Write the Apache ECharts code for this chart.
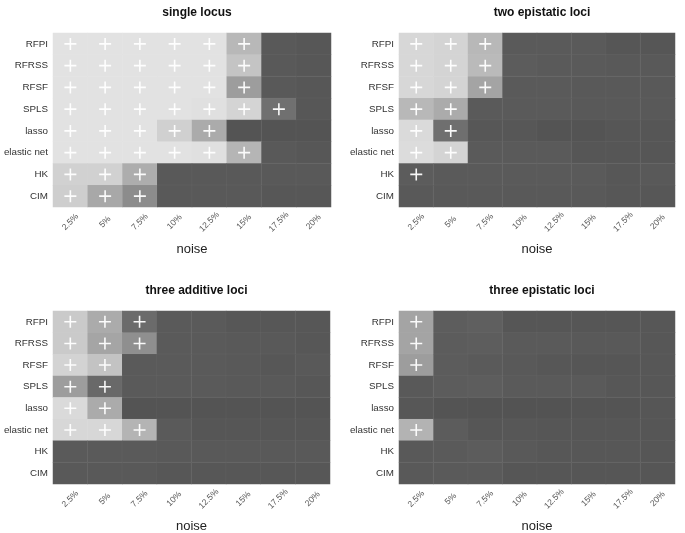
<!DOCTYPE html>
<html>
<head>
<meta charset="utf-8">
<script src="https://cdn.jsdelivr.net/npm/echarts@6/dist/echarts.min.js"></script>
<style>
  html, body { margin: 0; padding: 0; background: #fff; }
  #chart { width: 685px; height: 533px; }
</style>
</head>
<body>
<div id="chart"></div>
<script>
var methods = ['RFPI', 'RFRSS', 'RFSF', 'SPLS', 'lasso', 'elastic net', 'HK', 'CIM'];
var noiseLevels = ['2.5%', '5%', '7.5%', '10%', '12.5%', '15%', '17.5%', '20%'];
var panelTitles = ['single locus', 'two epistatic loci', 'three additive loci', 'three epistatic loci'];

// detection power, one row per method, one column per noise level
var singleLocus = [
  [0.97, 0.97, 0.97, 0.97, 0.97, 0.69, 0.04, 0.03],
  [0.97, 0.97, 0.97, 0.97, 0.97, 0.77, 0.04, 0.03],
  [0.97, 0.97, 0.97, 0.97, 0.97, 0.50, 0.04, 0.03],
  [0.97, 0.97, 0.97, 0.97, 0.96, 0.88, 0.20, 0.03],
  [0.97, 0.97, 0.97, 0.85, 0.60, 0.01, 0.01, 0.01],
  [0.97, 0.97, 0.97, 0.97, 0.96, 0.67, 0.04, 0.03],
  [0.86, 0.86, 0.61, 0.04, 0.04, 0.04, 0.04, 0.04],
  [0.84, 0.58, 0.39, 0.04, 0.04, 0.04, 0.03, 0.03]
];
var twoEpistatic = [
  [0.90, 0.88, 0.69, 0.05, 0.05, 0.05, 0.02, 0.02],
  [0.90, 0.88, 0.70, 0.06, 0.05, 0.05, 0.04, 0.04],
  [0.90, 0.88, 0.55, 0.05, 0.05, 0.04, 0.04, 0.04],
  [0.69, 0.60, 0.05, 0.05, 0.05, 0.04, 0.04, 0.04],
  [0.92, 0.19, 0.03, 0.03, 0.01, 0.01, 0.02, 0.02],
  [0.93, 0.88, 0.05, 0.05, 0.05, 0.02, 0.02, 0.02],
  [0.06, 0.05, 0.05, 0.05, 0.05, 0.05, 0.03, 0.04],
  [0.04, 0.04, 0.04, 0.04, 0.04, 0.04, 0.03, 0.03]
];
var threeAdditive = [
  [0.81, 0.60, 0.16, 0.05, 0.05, 0.03, 0.03, 0.03],
  [0.81, 0.56, 0.41, 0.05, 0.05, 0.04, 0.04, 0.03],
  [0.87, 0.76, 0.05, 0.05, 0.05, 0.04, 0.03, 0.04],
  [0.50, 0.15, 0.05, 0.05, 0.05, 0.04, 0.04, 0.03],
  [0.92, 0.60, 0.01, 0.01, 0.01, 0.01, 0.01, 0.01],
  [0.90, 0.90, 0.66, 0.05, 0.02, 0.02, 0.02, 0.02],
  [0.05, 0.05, 0.05, 0.04, 0.04, 0.04, 0.04, 0.04],
  [0.04, 0.04, 0.04, 0.03, 0.03, 0.03, 0.03, 0.03]
];
var threeEpistatic = [
  [0.55, 0.07, 0.08, 0.02, 0.02, 0.02, 0.02, 0.03],
  [0.55, 0.06, 0.07, 0.05, 0.05, 0.04, 0.04, 0.03],
  [0.50, 0.06, 0.05, 0.04, 0.03, 0.02, 0.02, 0.03],
  [0.04, 0.06, 0.07, 0.05, 0.05, 0.05, 0.03, 0.03],
  [0.03, 0.01, 0.00, 0.00, 0.00, 0.01, 0.01, 0.02],
  [0.65, 0.06, 0.02, 0.03, 0.02, 0.02, 0.02, 0.02],
  [0.04, 0.05, 0.06, 0.04, 0.03, 0.03, 0.03, 0.02],
  [0.04, 0.05, 0.05, 0.02, 0.02, 0.02, 0.02, 0.02]
];

// number of leading noise levels marked "+" for each method
var singleLocusMarks = [6, 6, 6, 7, 5, 6, 3, 3];
var twoEpistaticMarks = [3, 3, 3, 2, 2, 2, 1, 0];
var threeAdditiveMarks = [3, 3, 2, 2, 2, 3, 0, 0];
var threeEpistaticMarks = [1, 1, 1, 0, 0, 1, 0, 0];

var panels = [singleLocus, twoEpistatic, threeAdditive, threeEpistatic];
var panelMarks = [singleLocusMarks, twoEpistaticMarks, threeAdditiveMarks, threeEpistaticMarks];

var grids = [
  { left: 53, top: 33, width: 278, height: 174, outerBoundsMode: 'none' },
  { left: 399, top: 33, width: 276, height: 174, outerBoundsMode: 'none' },
  { left: 53, top: 311, width: 277, height: 173, outerBoundsMode: 'none' },
  { left: 399, top: 311, width: 276, height: 173, outerBoundsMode: 'none' }
];

var font = 'Liberation Sans, Arial, sans-serif';
var plusPath = 'path://M5.2,0H6.8V5.2H12V6.8H6.8V12H5.2V6.8H0V5.2H5.2Z';

var titles = [], xAxes = [], yAxes = [], series = [];
panels.forEach(function (values, p) {
  var g = grids[p];
  titles.push({
    text: panelTitles[p],
    left: g.left + g.width / 2,
    top: g.top - 31,
    textAlign: 'center',
    textStyle: { fontFamily: font, fontSize: 12, fontWeight: 'bold', color: '#111' }
  });
  xAxes.push({
    type: 'category', gridIndex: p, data: noiseLevels,
    name: 'noise', nameLocation: 'middle', nameGap: 36,
    nameTextStyle: { fontFamily: font, fontSize: 13, color: '#222' },
    axisLine: { show: false }, axisTick: { show: false }, splitLine: { show: false },
    axisLabel: {
      rotate: 45, align: 'center', verticalAlign: 'middle', margin: 15,
      fontFamily: font, fontSize: 8.5, color: '#555'
    }
  });
  yAxes.push({
    type: 'category', gridIndex: p, data: methods, inverse: true,
    axisLine: { show: false }, axisTick: { show: false }, splitLine: { show: false },
    axisLabel: { fontFamily: font, fontSize: 9.8, color: '#333', margin: 5 }
  });
  var cells = [], plus = [];
  values.forEach(function (row, r) {
    row.forEach(function (v, c) {
      cells.push([c, r, v]);
      if (c < panelMarks[p][r]) plus.push([c, r]);
    });
  });
  series.push({
    type: 'heatmap', xAxisIndex: p, yAxisIndex: p, data: cells,
    itemStyle: { borderColor: 'rgba(255,255,255,0.035)', borderWidth: 1 },
    emphasis: { disabled: true }
  });
  series.push({
    type: 'scatter', xAxisIndex: p, yAxisIndex: p, data: plus,
    symbol: plusPath, symbolSize: 12,
    itemStyle: { color: '#fff', opacity: 0.95 },
    silent: true, z: 5
  });
});

var chart = echarts.init(document.getElementById('chart'));
chart.setOption({
  backgroundColor: '#fff',
  animation: false,
  title: titles,
  grid: grids,
  xAxis: xAxes,
  yAxis: yAxes,
  visualMap: {
    show: false, min: 0, max: 1,
    seriesIndex: [0, 2, 4, 6],
    inRange: { color: ['#535353', '#e6e6e6'] }
  },
  series: series
});
</script>
</body>
</html>
